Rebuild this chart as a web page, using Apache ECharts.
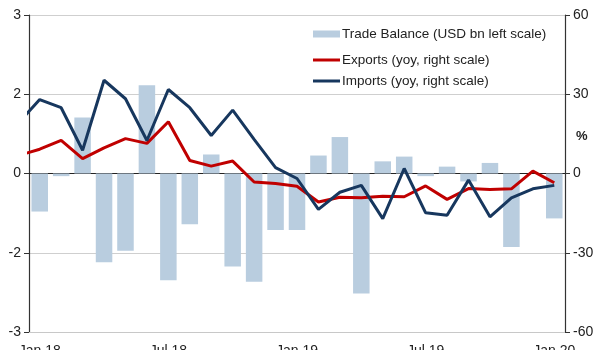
<!DOCTYPE html>
<html>
<head>
<meta charset="utf-8">
<script src="https://cdn.jsdelivr.net/npm/echarts@6/dist/echarts.min.js"></script>
<style>
html,body{margin:0;padding:0;background:#fff;}
#c{width:600px;height:350px;}
</style>
</head>
<body>
<div id="c"></div>
<script>
// Categories (months) Jan 18 .. Jan 20
var categories = ['Jan 18','Feb 18','Mar 18','Apr 18','May 18','Jun 18','Jul 18','Aug 18','Sep 18','Oct 18','Nov 18','Dec 18',
                  'Jan 19','Feb 19','Mar 19','Apr 19','May 19','Jun 19','Jul 19','Aug 19','Sep 19','Oct 19','Nov 19','Dec 19','Jan 20'];
// Trade balance, USD bn (left scale)
var tradeBalance = [-0.72,-0.05,1.06,-1.68,-1.46,1.67,-2.02,-0.96,0.36,-1.76,-2.05,-1.07,
                    -1.07,0.34,0.69,-2.27,0.23,0.32,-0.05,0.13,-0.15,0.20,-1.39,0,-0.85];
// Exports yoy % (right scale); prev value is Dec 17 (clipped at left edge)
var exportsPrev = 6.8;
var exportsYoy = [9.2,12.5,5.6,9.7,13.2,11.4,19.6,4.9,2.8,4.7,-3.2,-3.8,
                  -4.8,-10.8,-9.0,-9.2,-8.6,-8.8,-4.7,-9.8,-5.7,-6.1,-5.8,0.9,-3.5];
// Imports yoy % (right scale)
var importsPrev = 19.1;
var importsYoy = [28.0,24.9,8.8,35.3,28.3,12.5,31.8,24.9,14.4,24.0,12.9,2.2,
                  -1.9,-13.6,-7.1,-4.5,-17.1,1.9,-14.9,-15.8,-2.5,-16.4,-9.2,-5.8,-4.5];
// Tick labels
var leftTickValues = [-3,-1.5,0,1.5,3];
var leftTickLabels = ['-3','-2','0','2','3'];
var rightTickLabels = ['-60','-30','0','30','60'];

function toXY(prev, arr){
  var out = [[-1, prev]];
  for (var i=0;i<arr.length;i++) out.push([i, arr[i]]);
  return out;
}

var FONT = 'Liberation Sans, Arial, sans-serif';
var legendText = {fontFamily:FONT, fontSize:13.5, color:'#222', padding:[0,0,0,-3]};
var chart = echarts.init(document.getElementById('c'), null, {renderer:'canvas'});
chart.setOption({
  animation:false,
  backgroundColor:'#fff',
  grid:{left:29, right:35, top:15, bottom:18, containLabel:false, outerBoundsMode:'none'},
  legend:[
    {orient:'vertical', left:308, top:22, itemWidth:27, itemHeight:7, itemGap:9,
     textStyle:legendText,
     data:[{name:'Trade Balance (USD bn left scale)', icon:'rect'}]},
    {orient:'vertical', left:308, top:48, itemWidth:27, itemHeight:3, itemGap:7,
     textStyle:legendText, icon:'rect',
     data:[{name:'Exports (yoy, right scale)'},{name:'Imports (yoy, right scale)'}]}
  ],
  xAxis:[
    {type:'category', data:categories, position:'bottom', boundaryGap:true,
     axisLine:{show:true, onZero:false, lineStyle:{color:'#c8c8c8', width:1}},
     axisTick:{show:false},
     axisLabel:{interval:5, margin:12, fontFamily:FONT, fontSize:14, color:'#222'},
     splitLine:{show:false}},
    {type:'value', min:-0.5, max:24.5, position:'bottom',
     axisLine:{show:true, onZero:true, lineStyle:{color:'#222', width:1.2}},
     axisTick:{show:false}, axisLabel:{show:false}, splitLine:{show:false}}
  ],
  yAxis:[
    {type:'value', min:-3, max:3, interval:1.5, position:'left',
     axisLine:{show:true, onZero:false, lineStyle:{color:'#333', width:1.2}},
     axisTick:{show:true, length:5, lineStyle:{color:'#333'}},
     axisLabel:{margin:8, fontFamily:FONT, fontSize:14, color:'#222',
       formatter:function(v){ var k=leftTickValues.indexOf(v); return k>=0?leftTickLabels[k]:''; }},
     splitLine:{show:true, lineStyle:{color:'#cfcfcf', width:1}}},
    {type:'value', min:-60, max:60, interval:30, position:'right',
     axisLine:{show:true, onZero:false, lineStyle:{color:'#333', width:1.2}},
     axisTick:{show:true, length:5, lineStyle:{color:'#333'}},
     axisLabel:{margin:8, fontFamily:FONT, fontSize:14, color:'#222',
       formatter:function(v){ return rightTickLabels[Math.round((v+60)/30)]; }},
     splitLine:{show:false}}
  ],
  graphic:[{type:'text', left:576, top:130, style:{text:'%', font:'bold 13px '+FONT, fill:'#222'}}],
  series:[
    {name:'Trade Balance (USD bn left scale)', type:'bar', xAxisIndex:0, yAxisIndex:0,
     data:tradeBalance, barWidth:'77%', itemStyle:{color:'#b9cddf'}},
    {name:'Exports (yoy, right scale)', type:'line', xAxisIndex:1, yAxisIndex:1,
     data:toXY(exportsPrev, exportsYoy), symbol:'none', clip:true,
     lineStyle:{color:'#c00000', width:3}, itemStyle:{color:'#c00000'}},
    {name:'Imports (yoy, right scale)', type:'line', xAxisIndex:1, yAxisIndex:1,
     data:toXY(importsPrev, importsYoy), symbol:'none', clip:true,
     lineStyle:{color:'#17375e', width:3}, itemStyle:{color:'#17375e'}}
  ]
});
</script>
</body>
</html>
